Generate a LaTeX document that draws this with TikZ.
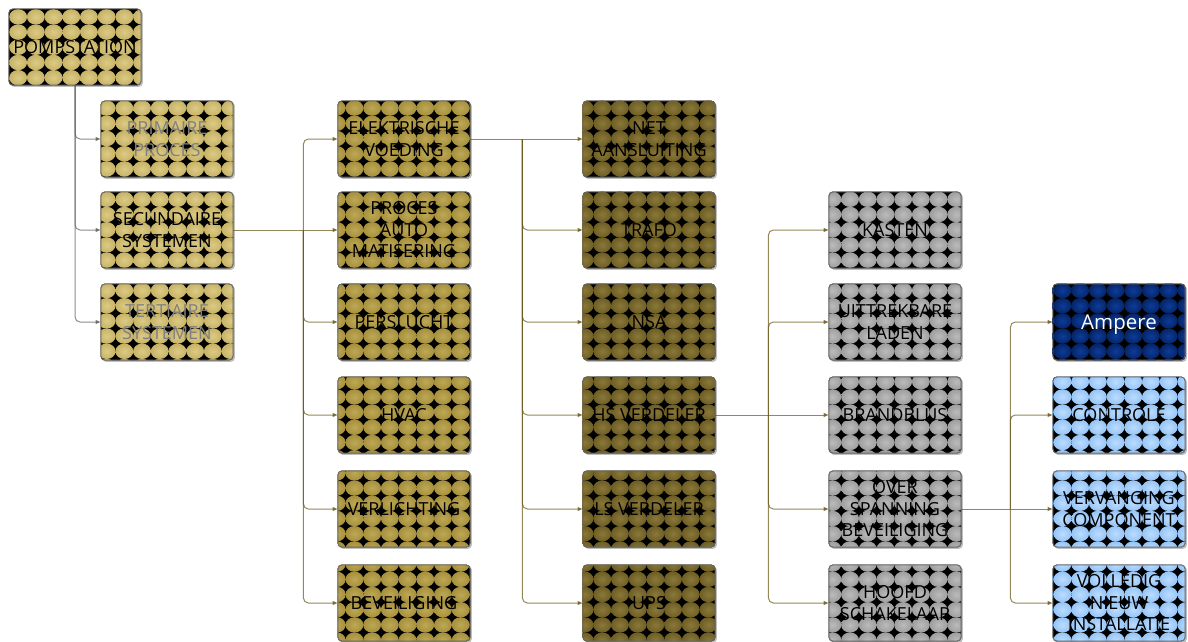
\documentclass[tikz,border=0pt]{standalone}
\usepackage{fontspec}
\setmainfont{Open Sans}
\usetikzlibrary{positioning, arrows.meta, backgrounds}

\definecolor{tanlo}{HTML}{C7B366}
\definecolor{tanhi}{HTML}{DCCB86}
\definecolor{mustlo}{HTML}{A6903E}
\definecolor{musthi}{HTML}{BDA855}
\definecolor{olivelo}{HTML}{6E5E24}
\definecolor{olivehi}{HTML}{8A783A}
\definecolor{greylo}{HTML}{9E9E9E}
\definecolor{greyhi}{HTML}{BBBBBB}
\definecolor{navylo}{HTML}{062464}
\definecolor{navyhi}{HTML}{0D3C9C}
\definecolor{skylo}{HTML}{96C5F6}
\definecolor{skyhi}{HTML}{BCDCFF}
\definecolor{linkolive}{HTML}{6B5A1C}
\definecolor{linkgrey}{HTML}{5E5E5E}

% shadow + tile grid for one colour group, clipped to its boxes
\newcommand\tiles[7]{%
  \foreach \n in {#1}
    \fill[black!25, rounded corners=4pt] ([shift={(1.5,1.5)}]\n.south west) rectangle ([shift={(1.5,1.5)}]\n.north east);
  \begin{scope}
    \clip[rounded corners=4pt] \foreach \n in {#1} {(\n.south west) rectangle (\n.north east)};
    \fill[black] (0,0) rectangle (1188,700);
    \foreach \i in {#4,...,#5}
      \foreach \j in {#6,...,#7}
        \shade[inner color=#3, outer color=#2] (18.15+17.7*\i,16.9+15.2*\j) ellipse (8.95 and 7.7);
  \end{scope}}

\begin{document}
\begin{tikzpicture}[x=1pt, y=-1pt,
  box/.style={draw=black!60, line width=0.8pt, rounded corners=4pt, minimum width=132pt,
    minimum height=76pt, inner sep=0pt, align=center, font=\fontsize{18}{21.5}\selectfont},
  dim/.style={text=black!50},
  link/.style={draw=linkolive, opacity=0.72, line width=1pt, rounded corners=5pt,
    -{Triangle[length=5pt, width=4pt]}},
  greylink/.style={link, draw=linkgrey}]
  \useasboundingbox (0,0) rectangle (1188,641);

  \node[box] (pomp) at (75,47) {POMPSTATION};

  \node[box, dim] (prim) at (167,139) {PRIMAIRE\\PROCES};
  \node[box] (sec) at (167,230) {SECUNDAIRE\\SYSTEMEN};
  \node[box, dim] (ter) at (167,322) {TERTIAIRE\\SYSTEMEN};

  \node[box] (elek) at (404,139) {ELEKTRISCHE\\VOEDING};
  \node[box] (proc) at (404,230) {PROCES\\AUTO\\MATISERING};
  \node[box] (pers) at (404,322) {PERSLUCHT};
  \node[box] (hvac) at (404,415) {HVAC};
  \node[box] (verl) at (404,509) {VERLICHTING};
  \node[box] (bev) at (404,603) {BEVEILIGING};

  \node[box] (net) at (649,139) {NET\\AANSLUITING};
  \node[box] (trafo) at (649,230) {TRAFO};
  \node[box] (nsa) at (649,322) {NSA};
  \node[box] (hs) at (649,415) {HS VERDELER};
  \node[box] (ls) at (649,509) {LS VERDELER};
  \node[box] (ups) at (649,603) {UPS};

  \node[box] (kast) at (895,230) {KASTEN};
  \node[box] (lade) at (895,322) {UITTREKBARE\\LADEN};
  \node[box] (blus) at (895,415) {BRANDBLUS};
  \node[box] (over) at (895,509) {OVER\\SPANNING\\BEVEILIGING};
  \node[box] (hoofd) at (895,603) {HOOFD\\SCHAKELAAR};

  \node[box, text=white, text depth=0pt, font=\fontsize{20.5}{24}\selectfont] (amp) at (1119,322) {Ampere};
  \node[box] (contr) at (1119,415) {CONTROLE};
  \node[box] (verv) at (1119,509) {VERVANGING\\COMPONENT};
  \node[box] (vol) at (1119,603) {VOLLEDIG\\NIEUW\\INSTALLATIE};

  % branch points
  \coordinate[right=70pt of sec.east] (t1);
  \coordinate[right=52pt of elek.east] (t2);
  \coordinate[right=53pt of hs.east] (t3);
  \coordinate[right=49pt of over.east] (t4);

  \foreach \b in {prim, sec, ter} \draw[greylink] (pomp.south) |- (\b.west);
  \draw[link] (sec.east) -- (proc.west);
  \foreach \b in {elek, pers, hvac, verl, bev} \draw[link] (t1) |- (\b.west);
  \draw[link] (elek.east) -- (net.west);
  \foreach \b in {trafo, nsa, hs, ls, ups} \draw[link] (t2) |- (\b.west);
  \draw[link] (hs.east) -- (blus.west);
  \foreach \b in {kast, lade, over, hoofd} \draw[link] (t3) |- (\b.west);
  \draw[link] (over.east) -- (verv.west);
  \foreach \b in {amp, contr, vol} \draw[link] (t4) |- (\b.west);

  \begin{scope}[on background layer]
    \tiles{pomp,prim,sec,ter}{tanlo}{tanhi}{0}{13}{0}{23}
    \tiles{elek,proc,pers,hvac,verl,bev}{mustlo}{musthi}{17}{26}{5}{42}
    \tiles{net,trafo,nsa,hs,ls,ups}{olivelo}{olivehi}{31}{40}{5}{42}
    \tiles{kast,lade,blus,over,hoofd}{greylo}{greyhi}{45}{54}{11}{42}
    \tiles{amp}{navylo}{navyhi}{58}{67}{17}{23}
    \tiles{contr,verv,vol}{skylo}{skyhi}{58}{67}{23}{42}
  \end{scope}
\end{tikzpicture}
\end{document}
